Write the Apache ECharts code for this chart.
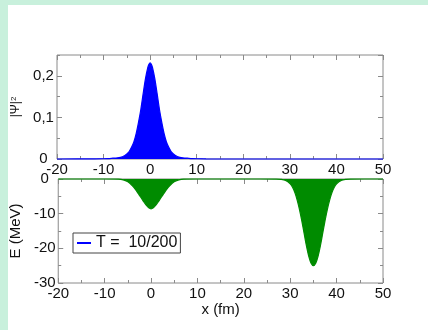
<!DOCTYPE html>
<html>
<head>
<meta charset="utf-8">
<script src="https://cdn.jsdelivr.net/npm/echarts@6/dist/echarts.min.js"></script>
<style>
  html, body { margin: 0; padding: 0; }
  body { width: 428px; height: 330px; background: #c8f0dc; position: relative; overflow: hidden; }
  #panel { position: absolute; left: 8px; top: 5px; width: 420px; height: 325px; background: #ffffff; }
  #chart { position: absolute; left: 0; top: 0; width: 428px; height: 330px; }
</style>
</head>
<body>
<div id="panel"></div>
<div id="chart"></div>
<script>
// Probability density |Psi|^2 along x (fm)
const psiX = [-20, -12, -10, -9, -8, -7, -6, -5.5, -5, -4.5, -4, -3.5, -3, -2.5, -2, -1.5, -1, -0.5, -0.25, 0,
  0.25, 0.5, 1, 1.5, 2, 2.5, 3, 3.5, 4, 4.5, 5, 5.5, 6, 7, 8, 9, 10, 12, 20, 30, 40, 50];
const psiY = [0, 0.0002, 0.0006, 0.001, 0.002, 0.003, 0.005, 0.008, 0.012, 0.018, 0.028, 0.041, 0.061, 0.088, 0.119, 0.157, 0.193, 0.220, 0.228, 0.231,
  0.228, 0.220, 0.193, 0.157, 0.119, 0.088, 0.061, 0.041, 0.028, 0.018, 0.012, 0.008, 0.005, 0.003, 0.002, 0.001, 0.0006, 0.0002, 0, 0, 0, 0];

// Potential energy E (MeV) along x (fm): two wells
const potX = [-20, -10, -7, -6, -5, -4.5, -4, -3.5, -3, -2.5, -2, -1.5, -1, -0.5, 0,
  0.5, 1, 1.5, 2, 2.5, 3, 3.5, 4, 4.5, 5, 6, 7, 10, 20,
  27, 28, 29, 30, 30.5, 31, 31.5, 32, 32.5, 33, 33.5, 34, 34.5, 35,
  35.5, 36, 36.5, 37, 37.5, 38, 38.5, 39, 39.5, 40, 41, 42, 43, 50];
const potY = [0, 0, -0.05, -0.25, -0.8, -1.3, -2.0, -2.8, -3.7, -4.7, -5.7, -6.7, -7.6, -8.3, -8.6,
  -8.3, -7.6, -6.7, -5.7, -4.7, -3.7, -2.8, -2.0, -1.3, -0.8, -0.25, -0.05, 0, 0,
  -0.02, -0.09, -0.39, -1.39, -2.4, -3.93, -6.07, -8.83, -12.1, -15.7, -19.3, -22.3, -24.3, -25,
  -24.3, -22.3, -19.3, -15.7, -12.1, -8.83, -6.07, -3.93, -2.4, -1.39, -0.39, -0.09, -0.02, 0];

const xTicks = { min: -20, max: 50, interval: 10 };
const legendLabel = 'T =  10/200';

const FONT = "'Liberation Sans', Arial, sans-serif";
const FRAME = '#8a8a8a';
const BLUE = '#0000ff';
const GREEN = '#008b00';

function tickAxis(extra) {
  return Object.assign({
    type: 'value',
    axisLine: { show: false, onZero: false },
    axisTick: { show: true, inside: true, length: 5, lineStyle: { color: FRAME, width: 1 } },
    minorTick: { show: false },
    axisLabel: { show: false },
    splitLine: { show: false },
    minorSplitLine: { show: false }
  }, extra);
}

function xAxisFor(grid, pos, labels, name) {
  const a = tickAxis({
    gridIndex: grid, position: pos,
    min: xTicks.min, max: xTicks.max, interval: xTicks.interval,
    minorTick: { show: true, splitNumber: 2, length: 3, lineStyle: { color: FRAME, width: 1 } }
  });
  if (labels) {
    a.axisLabel = { show: true, margin: 3, fontSize: 15, color: '#111', fontFamily: FONT };
  }
  if (name) {
    a.name = name;
    a.nameLocation = 'middle';
    a.nameGap = 18;
    a.nameTextStyle = { fontSize: 15, color: '#111', fontFamily: FONT };
  }
  return a;
}

const chart = echarts.init(document.getElementById('chart'), null, { renderer: 'canvas' });

const decimalComma = v => String(+v.toFixed(2)).replace('.', ',');
const shortTick = { show: true, inside: true, length: 3, lineStyle: { color: FRAME, width: 1 } };

const option = {
  animation: false,
  backgroundColor: 'transparent',
  textStyle: { fontFamily: FONT },
  grid: [
    { left: 57, right: 45, top: 55, height: 104, show: true, borderColor: FRAME, borderWidth: 1, backgroundColor: 'transparent' },
    { left: 57, right: 45, top: 179, height: 104, show: true, borderColor: FRAME, borderWidth: 1, backgroundColor: 'transparent' }
  ],
  xAxis: [
    xAxisFor(0, 'bottom', true, null),
    xAxisFor(0, 'top', false, null),
    xAxisFor(1, 'bottom', true, 'x (fm)'),
    xAxisFor(1, 'top', false, null)
  ],
  yAxis: [
    tickAxis({
      gridIndex: 0, position: 'left', min: 0, max: 0.25, interval: 0.1,
      axisLabel: { show: true, showMaxLabel: false, align: 'center', margin: 13.5, fontSize: 15, color: '#111', fontFamily: FONT, formatter: decimalComma },
      name: '|Ψ|{s|2}', nameLocation: 'middle', nameGap: 31,
      nameTextStyle: { fontSize: 12, color: '#111', fontFamily: FONT, rich: { s: { fontSize: 8, verticalAlign: 'top', color: '#111' } } }
    }),
    tickAxis({ gridIndex: 0, position: 'left', min: 0, max: 0.25, interval: 0.05, axisTick: shortTick }),
    tickAxis({ gridIndex: 0, position: 'right', min: 0, max: 0.25, interval: 0.1 }),
    tickAxis({ gridIndex: 0, position: 'right', min: 0, max: 0.25, interval: 0.05, axisTick: shortTick }),
    tickAxis({
      gridIndex: 1, position: 'left', min: -30, max: 0, interval: 10,
      minorTick: { show: true, splitNumber: 2, length: 3, lineStyle: { color: FRAME } },
      axisLabel: { show: true, align: 'center', margin: 13.5, fontSize: 15, color: '#111', fontFamily: FONT },
      name: 'E (MeV)', nameLocation: 'middle', nameGap: 27,
      nameTextStyle: { fontSize: 15, color: '#111', fontFamily: FONT }
    }),
    tickAxis({
      gridIndex: 1, position: 'right', min: -30, max: 0, interval: 10,
      minorTick: { show: true, splitNumber: 2, length: 3, lineStyle: { color: FRAME } }
    })
  ],
  legend: {
    data: [{ name: legendLabel, icon: 'rect', itemStyle: { color: BLUE } }],
    left: 73, top: 233,
    itemWidth: 14, itemHeight: 2,
    padding: [2, 3, 2, 4],
    borderColor: '#444', borderWidth: 1, backgroundColor: '#fff',
    selectedMode: false,
    textStyle: { fontSize: 16, color: '#111', fontFamily: FONT }
  },
  series: [
    {
      name: legendLabel, type: 'line', xAxisIndex: 0, yAxisIndex: 0,
      data: psiX.map((x, i) => [x, psiY[i]]),
      showSymbol: false, smooth: 0.3, clip: false,
      lineStyle: { color: BLUE, width: 1.2 },
      itemStyle: { color: BLUE },
      areaStyle: { color: BLUE, opacity: 1 },
      z: 3
    },
    {
      name: 'E', type: 'line', xAxisIndex: 2, yAxisIndex: 4,
      data: potX.map((x, i) => [x, potY[i]]),
      showSymbol: false, smooth: 0.3, clip: false,
      lineStyle: { color: GREEN, width: 1.2 },
      itemStyle: { color: GREEN },
      areaStyle: { color: GREEN, opacity: 1 },
      z: 3
    }
  ]
};

chart.setOption(option);
</script>
</body>
</html>
